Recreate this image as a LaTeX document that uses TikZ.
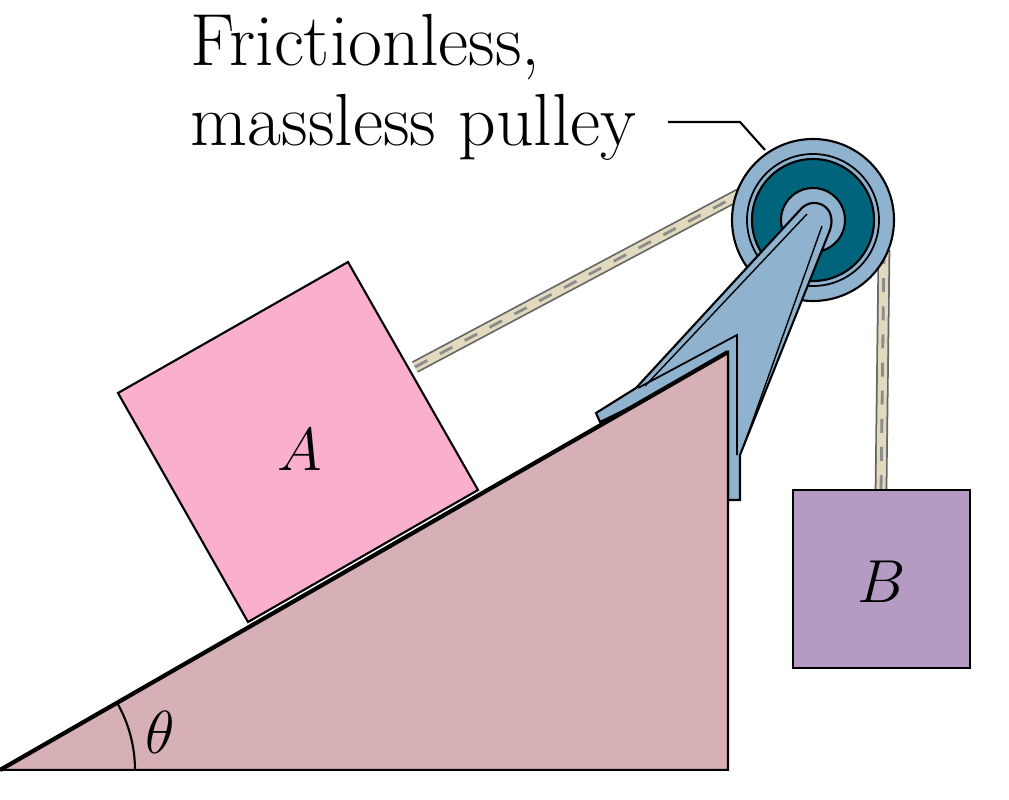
\documentclass[tikz,border=0pt]{standalone}
\usepackage{tikz}
\usetikzlibrary{positioning}
\definecolor{incline}{RGB}{214,176,180}
\definecolor{blockA}{RGB}{250,175,207}
\definecolor{blockB}{RGB}{181,155,196}
\definecolor{pulleyblue}{RGB}{143,178,206}
\definecolor{pulleyteal}{RGB}{0,100,125}
\definecolor{ropebeige}{RGB}{226,218,190}
\begin{document}
\begin{tikzpicture}[%
    x=0.01cm,y=-0.01cm,
    every node/.style={font=\fontsize{19}{23}\selectfont},
    body/.style={draw=black,line width=0.6pt},
    rope/.style={line width=3.6pt,draw=black!60},
    ropein/.style={line width=2.6pt,draw=ropebeige},
    twist/.style={line width=0.8pt,draw=black!45,dash pattern=on 4pt off 4pt}
  ]
  \useasboundingbox (0,0) rectangle (1009,800);

  % ropes
  \coordinate (ropeA) at (415,367);
  \coordinate (ropeP) at (742,193);
  \coordinate (ropeQ) at (884,250);
  \coordinate (ropeB) at (881,490);
  \foreach \s in {rope,ropein,twist}
    \draw [\s] (ropeA) -- (ropeP) (ropeQ) -- (ropeB);

  % pulley
  \coordinate (hub) at (813,220);
  \filldraw [body,fill=pulleyblue] (hub) circle (81);
  \draw [black,line width=0.5pt] (hub) circle (66);
  \filldraw [body,fill=pulleyteal] (hub) circle (61);
  \filldraw [body,fill=pulleyblue] (hub) circle (32);

  % bracket
  \filldraw [body,fill=pulleyblue]
    (800,210) -- (636,388) -- (596,413) -- (600,422) -- (728,360)
    -- (728,500) -- (740,500) -- (740,455) -- (830,230)
    .. controls (838,205) and (812,195) .. cycle;
  \draw [black,line width=0.5pt] (638,388) -- (737,335) -- (737,455);
  \draw [black,line width=0.4pt] (807,214) -- (645,386) (822,226) -- (744,445);

  % incline
  \filldraw [body,fill=incline] (0,770) -- (728,352) -- (728,770) -- cycle;
  \fill [white] (-5,771) rectangle (735,805);
  \draw [black,line width=1.2pt] (0,770) -- (728,352);
  \draw [black,line width=0.6pt] (0,770) ++(-30:135) arc (-30:0:135);
  \node (theta) at (160,732) {$\theta$};

  % blocks
  \filldraw [body,fill=blockA] (118,393) -- (348,262) -- (478,490) -- (248,622) -- cycle;
  \node (A) at (300,450) {$A$};
  \filldraw [body,fill=blockB] (793,490) rectangle (970,668);
  \node (B) at (882,582) {$B$};

  % label
  \node [anchor=north west,align=left,inner sep=0pt,
    font=\fontsize{21}{22.5}\selectfont] (label) at (190,14)
    {Frictionless,\\massless pulley};
  \coordinate (labelend) at (765,150);
  \coordinate (labelbend) at (740,122);
  \draw [black,line width=0.6pt] (668,122) -- (labelbend) -- (labelend);
\end{tikzpicture}
\end{document}
